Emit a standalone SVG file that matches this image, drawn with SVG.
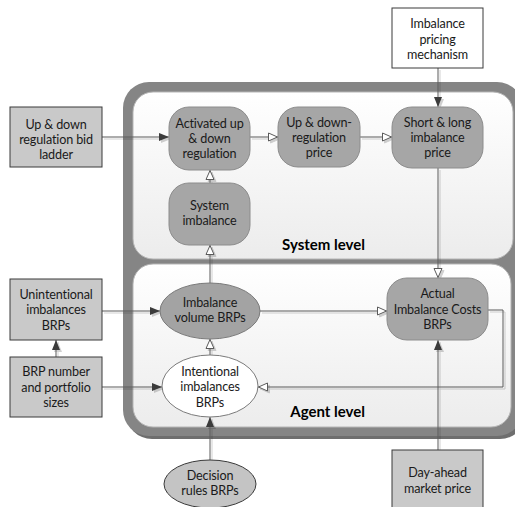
<svg xmlns="http://www.w3.org/2000/svg" width="515" height="507" viewBox="0 0 515 507">
  <defs>
    <style>
      text { font-family: Lato, "Liberation Sans", sans-serif; font-size: 12.6px; letter-spacing: -0.15px; fill: #1a1a1a; text-anchor: middle; }
      .lvl { font-size: 15px; letter-spacing: 0; font-weight: bold; text-anchor: end; fill: #000; }
      .box { fill: #c9c9c9; stroke: #3a3a3a; stroke-width: 1; }
      .wbox { fill: #ffffff; stroke: #3a3a3a; stroke-width: 1; }
      .proc { fill: #a6a6a6; stroke: #8c8c8c; stroke-width: 1; }
      .ell { fill: #a3a3a3; stroke: #7a7a7a; stroke-width: 1; }
      .ellw { fill: #ffffff; stroke: #7a7a7a; stroke-width: 1; }
      .ellg { fill: #c4c4c4; stroke: #3a3a3a; stroke-width: 1; }
      .con { fill: none; stroke: #5a5a5a; stroke-width: 1; }
      .full { marker-end: url(#af); }
      .open { marker-end: url(#ao); }
    </style>
    <linearGradient id="panel" x1="0" y1="0" x2="0" y2="1">
      <stop offset="0" stop-color="#ffffff"/>
      <stop offset="1" stop-color="#ececec"/>
    </linearGradient>
    <marker id="af" viewBox="0 0 10 10" refX="10" refY="5" markerWidth="10" markerHeight="10" markerUnits="userSpaceOnUse" orient="auto">
      <path d="M0,1 L10,5 L0,9 z" fill="#3a3a3a"/>
    </marker>
    <marker id="ao" viewBox="0 0 10 10" refX="10" refY="5" markerWidth="10" markerHeight="10" markerUnits="userSpaceOnUse" orient="auto">
      <path d="M0.5,1 L9.5,5 L0.5,9 z" fill="#ffffff" stroke="#5a5a5a" stroke-width="1"/>
    </marker>
    <filter id="shadow" filterUnits="userSpaceOnUse" x="0" y="0" width="515" height="507">
      <feOffset in="SourceAlpha" dx="1.5" dy="1.5" result="off"/>
      <feFlood flood-color="#000000" flood-opacity="0.18"/>
      <feComposite in2="off" operator="in"/>
      <feMerge>
        <feMergeNode/>
        <feMergeNode in="SourceGraphic"/>
      </feMerge>
    </filter>
  </defs>

  <rect width="515" height="507" fill="#ffffff"/>

  <!-- container frame with the two level panels -->
  <g id="frame">
    <rect x="126" y="85" width="400" height="354" rx="26" fill="#6e6e6e"/>
    <rect x="123" y="82" width="400" height="354" rx="26" fill="#858585"/>
    <rect x="133" y="92" width="380" height="167" rx="20" fill="url(#panel)" stroke="#b5b5b5"/>
    <rect x="133" y="264" width="378" height="163" rx="20" fill="url(#panel)" stroke="#b5b5b5"/>
    <text class="lvl" x="365" y="250">System level</text>
    <text class="lvl" x="365" y="417">Agent level</text>
  </g>

  <!-- connectors -->
  <g id="connectors" filter="url(#shadow)">
    <path class="con full" d="M102,137 H169"/>
    <path class="con open" d="M250,137 H278"/>
    <path class="con open" d="M360,137 H392"/>
    <path class="con full" d="M438,68 V107"/>
    <path class="con open" d="M210,183 V170"/>
    <path class="con open" d="M210,283 V245"/>
    <path class="con open" d="M438,168 V278"/>
    <path class="con full" d="M102,311 H160"/>
    <path class="con full" d="M56,357 V340"/>
    <path class="con full" d="M102,387 H162"/>
    <path class="con open" d="M210,355 V339"/>
    <path class="con open" d="M260,311 H387"/>
    <path class="con open" d="M488,310 H503 V387 H258"/>
    <path class="con full" d="M210,460 V417"/>
    <path class="con full" d="M438,450 V340"/>
  </g>

  <!-- nodes -->
  <g id="bid-ladder">
    <rect class="box" x="10" y="107" width="92" height="60"/>
    <text x="56" y="129">Up &amp; down</text>
    <text x="56" y="144">regulation bid</text>
    <text x="56" y="159">ladder</text>
  </g>
  <g id="activated-regulation">
    <rect class="proc" x="169" y="107" width="81" height="63" rx="20"/>
    <text x="209.5" y="128">Activated up</text>
    <text x="209.5" y="143">&amp; down</text>
    <text x="209.5" y="158">regulation</text>
  </g>
  <g id="regulation-price">
    <rect class="proc" x="278" y="107" width="82" height="60" rx="20"/>
    <text x="319" y="127">Up &amp; down-</text>
    <text x="319" y="142">regulation</text>
    <text x="319" y="157">price</text>
  </g>
  <g id="imbalance-price">
    <rect class="proc" x="392" y="107" width="91" height="61" rx="20"/>
    <text x="437.5" y="127">Short &amp; long</text>
    <text x="437.5" y="142">imbalance</text>
    <text x="437.5" y="157">price</text>
  </g>
  <g id="pricing-mechanism">
    <rect class="wbox" x="392" y="8" width="91" height="60"/>
    <text x="437.5" y="28">Imbalance</text>
    <text x="437.5" y="44">pricing</text>
    <text x="437.5" y="59">mechanism</text>
  </g>
  <g id="system-imbalance">
    <rect class="proc" x="169" y="183" width="81" height="62" rx="20"/>
    <text x="209.5" y="210">System</text>
    <text x="209.5" y="225">imbalance</text>
  </g>
  <g id="unintentional-imbalances">
    <rect class="box" x="10" y="279" width="92" height="61"/>
    <text x="56" y="299">Unintentional</text>
    <text x="56" y="314">imbalances</text>
    <text x="56" y="330">BRPs</text>
  </g>
  <g id="brp-portfolio">
    <rect class="box" x="10" y="357" width="92" height="60"/>
    <text x="56" y="376">BRP number</text>
    <text x="56" y="392">and portfolio</text>
    <text x="56" y="407">sizes</text>
  </g>
  <g id="imbalance-volume">
    <ellipse class="ell" cx="210" cy="311" rx="50" ry="28"/>
    <text x="210" y="307">Imbalance</text>
    <text x="210" y="322">volume BRPs</text>
  </g>
  <g id="intentional-imbalances">
    <ellipse class="ellw" cx="210" cy="386" rx="48" ry="31"/>
    <text x="210" y="376">Intentional</text>
    <text x="210" y="391">imbalances</text>
    <text x="210" y="407">BRPs</text>
  </g>
  <g id="decision-rules">
    <ellipse class="ellg" cx="210" cy="484" rx="46" ry="24"/>
    <text x="210" y="480">Decision</text>
    <text x="210" y="495">rules BRPs</text>
  </g>
  <g id="imbalance-costs">
    <rect class="proc" x="387" y="278" width="101" height="62" rx="20"/>
    <text x="437.5" y="298">Actual</text>
    <text x="437.5" y="314">Imbalance Costs</text>
    <text x="437.5" y="329">BRPs</text>
  </g>
  <g id="day-ahead-price">
    <rect class="box" x="392" y="450" width="91" height="62"/>
    <text x="437.5" y="477">Day-ahead</text>
    <text x="437.5" y="493">market price</text>
  </g>
</svg>
